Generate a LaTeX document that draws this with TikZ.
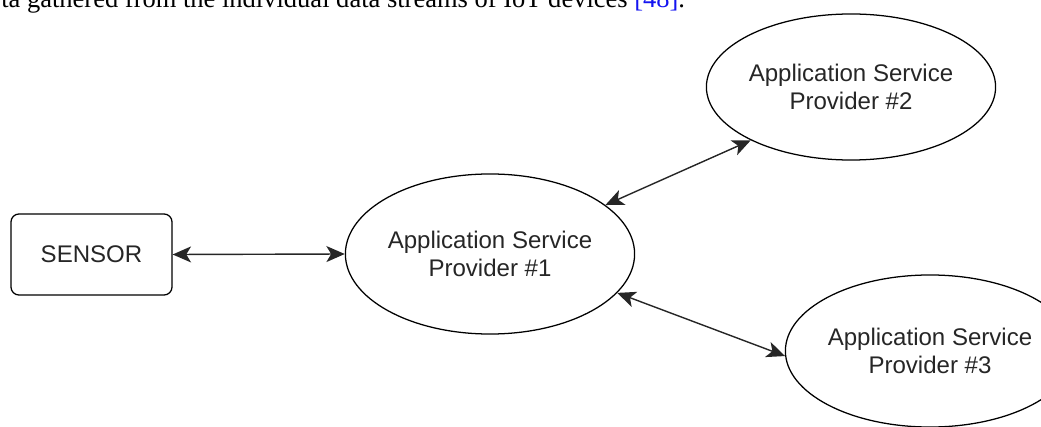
\documentclass[tikz,border=0pt]{standalone}
\usepackage{fontspec}
\setmainfont{Liberation Sans}
\newfontfamily\bodyserif{Liberation Serif}
\usepackage{tikz}
\usetikzlibrary{arrows.meta, shapes.geometric, positioning}

\definecolor{citeblue}{RGB}{20,20,240}

\begin{document}
\begin{tikzpicture}[x=0.025cm, y=-0.025cm,
        provider/.style={draw, ellipse, line width=0.9pt, inner sep=0pt,
            align=center, font=\fontsize{17.1pt}{20.2pt}\selectfont, text=black!85},
        sensorbox/.style={draw, rounded corners=0.2cm, line width=0.9pt,
            minimum width=4.025cm, minimum height=2.025cm,
            font=\fontsize{17.1pt}{20.2pt}\selectfont, text=black!85},
        link/.style={line width=1pt, black!85,
            {Stealth[length=0.46cm, width=0.4cm, inset=0.12cm]}-{Stealth[length=0.46cm, width=0.4cm, inset=0.12cm]}}]
        \useasboundingbox (0,0) rectangle (1041,427);
        \clip (0,0) rectangle (1041,427);

        % line of the running text above
        \node[anchor=base west, inner sep=0pt, font=\bodyserif\fontsize{18.85pt}{22pt}\selectfont]
            (bodyline) at (1,8) {ta gathered from the individual data streams of IoT devices \textcolor{citeblue}{[48]}.};

        \node[sensorbox] (sensor) at (91.5,254.5) {SENSOR};

        \node[provider, minimum width=5.95cm, minimum height=4cm] (asp1) at (490,254)
            {Application Service\\Provider \#1};
        \node[provider, minimum width=6cm, minimum height=3.65cm] (asp2) at (851,87)
            {Application Service\\Provider \#2};
        \node[provider, minimum width=5.95cm, minimum height=3.8cm] (asp3) at (930,351)
            {Application Service\\Provider \#3};

        \draw[link] (sensor.east) -- (asp1.west);
        \draw[link] (asp1.23) -- (asp2.208);
        \draw[link] (asp1.-17) -- (asp3.182);
\end{tikzpicture}
\end{document}
